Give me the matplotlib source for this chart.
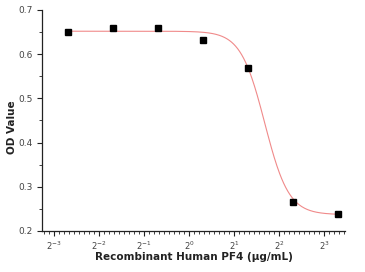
import numpy as np
import matplotlib
matplotlib.use("Agg")
import matplotlib.pyplot as plt
from matplotlib.ticker import FixedLocator, FixedFormatter, MultipleLocator

# Data
conc = [0.15625, 0.3125, 0.625, 1.25, 2.5, 5.0, 10.0]
od = [0.651, 0.660, 0.660, 0.633, 0.569, 0.265, 0.238]
# 4-parameter logistic fit parameters
fit_top = 0.652
fit_bottom = 0.237
fit_ec50 = 3.21
fit_hill = 5.4
xtick_exps = [-3, -2, -1, 0, 1, 2, 3]
xtick_labels = [r"$2^{%d}$" % e for e in xtick_exps]

fig = plt.figure(figsize=(3.65, 2.72), dpi=100)
ax = fig.add_axes([42/365, 1-231/272, (345-42)/365, (231-10)/272])

xs = np.logspace(np.log2(conc[0]), np.log2(conc[-1]), 400, base=2)
ys = fit_bottom + (fit_top - fit_bottom) / (1 + (xs / fit_ec50) ** fit_hill)
ax.plot(xs, ys, color="#f08a8a", lw=0.8, zorder=2)
ax.plot(conc, od, ls="none", marker="s", ms=3.8, color="black", zorder=3)

ax.set_xscale("log", base=2)
ax.set_xlim(2 ** -3.267, 2 ** 3.467)
ax.set_ylim(0.2, 0.7)

ax.xaxis.set_major_locator(FixedLocator([2.0 ** e for e in xtick_exps]))
ax.xaxis.set_major_formatter(FixedFormatter(xtick_labels))
minors = []
for e in range(-4, 4):
    for k in range(1, 9):
        minors.append(2.0 ** (e + k / 9))
ax.xaxis.set_minor_locator(FixedLocator(minors))
ax.xaxis.set_minor_formatter(FixedFormatter([""] * len(minors)))

ax.yaxis.set_major_locator(MultipleLocator(0.1))
ax.yaxis.set_minor_locator(MultipleLocator(0.05))
ax.yaxis.set_major_formatter(matplotlib.ticker.FormatStrFormatter("%.1f"))

for s in ["top", "right"]:
    ax.spines[s].set_visible(False)
for s in ["left", "bottom"]:
    ax.spines[s].set_linewidth(0.9)
    ax.spines[s].set_color("#222222")

ax.tick_params(axis="both", which="major", length=3.5, width=0.8, colors="#222222",
               labelsize=6.5, labelcolor="#444444", direction="out")
ax.tick_params(axis="x", which="major", labelsize=6, pad=3)
ax.tick_params(axis="both", which="minor", length=2, width=0.6, colors="#222222", direction="out")

ax.set_xlabel("Recombinant Human PF4 (μg/mL)", fontsize=7.5, fontweight="bold", color="#222222", va="center")
ax.set_ylabel("OD Value", fontsize=7.5, fontweight="bold", color="#222222", va="center")
ax.xaxis.set_label_coords(0.503, -0.118)
ax.yaxis.set_label_coords(-0.099, 0.47)

fig.savefig("out.png", dpi=100)
